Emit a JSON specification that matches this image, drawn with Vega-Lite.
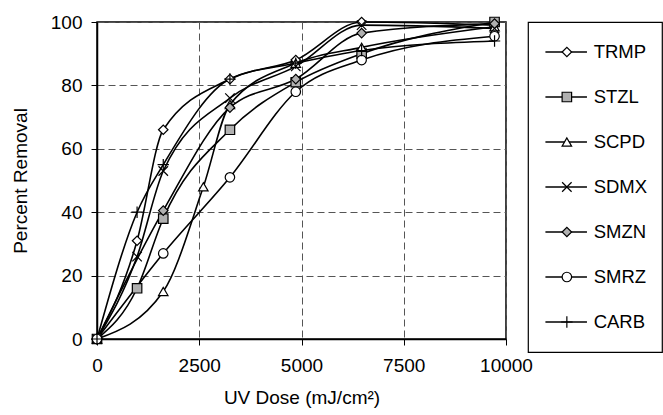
{
  "$schema": "https://vega.github.io/schema/vega-lite/v6.json",
  "background": "white",
  "padding": {"top": 12, "left": 10, "right": 0, "bottom": 0},
  "bounds": "flush",
  "spacing": 22,
  "config": {"font": "Liberation Sans"},
  "datasets": {
    "pts": [
      {"series": "TRMP", "dose": 0, "removal": 0},
      {"series": "TRMP", "dose": 980, "removal": 31},
      {"series": "TRMP", "dose": 1620, "removal": 66},
      {"series": "TRMP", "dose": 3250, "removal": 82},
      {"series": "TRMP", "dose": 4860, "removal": 88},
      {"series": "TRMP", "dose": 6470, "removal": 100},
      {"series": "TRMP", "dose": 9720, "removal": 99},
      {"series": "STZL", "dose": 0, "removal": 0},
      {"series": "STZL", "dose": 980, "removal": 16},
      {"series": "STZL", "dose": 1620, "removal": 38},
      {"series": "STZL", "dose": 3250, "removal": 66},
      {"series": "STZL", "dose": 4860, "removal": 81},
      {"series": "STZL", "dose": 6470, "removal": 90},
      {"series": "STZL", "dose": 9720, "removal": 100},
      {"series": "SCPD", "dose": 0, "removal": 0},
      {"series": "SCPD", "dose": 1620, "removal": 15},
      {"series": "SCPD", "dose": 2600, "removal": 48},
      {"series": "SCPD", "dose": 3250, "removal": 74},
      {"series": "SCPD", "dose": 4860, "removal": 87},
      {"series": "SCPD", "dose": 6470, "removal": 92},
      {"series": "SCPD", "dose": 9720, "removal": 98.5},
      {"series": "SDMX", "dose": 0, "removal": 0},
      {"series": "SDMX", "dose": 980, "removal": 26},
      {"series": "SDMX", "dose": 1620, "removal": 53},
      {"series": "SDMX", "dose": 3250, "removal": 76},
      {"series": "SDMX", "dose": 4860, "removal": 86},
      {"series": "SDMX", "dose": 6470, "removal": 99},
      {"series": "SDMX", "dose": 9720, "removal": 98},
      {"series": "SMZN", "dose": 0, "removal": 0},
      {"series": "SMZN", "dose": 1620, "removal": 40.5},
      {"series": "SMZN", "dose": 3250, "removal": 73},
      {"series": "SMZN", "dose": 4860, "removal": 82},
      {"series": "SMZN", "dose": 6470, "removal": 96.5},
      {"series": "SMZN", "dose": 9720, "removal": 99.5},
      {"series": "SMRZ", "dose": 0, "removal": 0},
      {"series": "SMRZ", "dose": 1620, "removal": 27},
      {"series": "SMRZ", "dose": 3250, "removal": 51},
      {"series": "SMRZ", "dose": 4860, "removal": 78},
      {"series": "SMRZ", "dose": 6470, "removal": 88},
      {"series": "SMRZ", "dose": 9720, "removal": 95.5},
      {"series": "CARB", "dose": 0, "removal": 0},
      {"series": "CARB", "dose": 980, "removal": 40},
      {"series": "CARB", "dose": 1620, "removal": 55},
      {"series": "CARB", "dose": 3250, "removal": 82},
      {"series": "CARB", "dose": 4860, "removal": 87},
      {"series": "CARB", "dose": 6470, "removal": 91},
      {"series": "CARB", "dose": 9720, "removal": 94}
    ],
    "leg": [
      {"series": "TRMP"}, {"series": "STZL"}, {"series": "SCPD"}, {"series": "SDMX"},
      {"series": "SMZN"}, {"series": "SMRZ"}, {"series": "CARB"}
    ]
  },
  "hconcat": [
    {
      "width": 409,
      "height": 317,
      "data": {"name": "pts"},
      "view": {"stroke": "black", "strokeWidth": 1.5},
      "layer": [
        {
          "mark": {"type": "line", "interpolate": "monotone", "color": "black", "strokeWidth": 1.6},
          "encoding": {
            "x": {
              "field": "dose", "type": "quantitative",
              "scale": {"domain": [0, 10000], "nice": false},
              "axis": {
                "values": [0, 2500, 5000, 7500, 10000], "format": "d",
                "title": "UV Dose (mJ/cm²)",
                "titleFontSize": 19, "titleFontWeight": "normal", "titleColor": "black", "titlePadding": 13,
                "labelFontSize": 19, "labelColor": "black", "labelPadding": 11, "labelFlush": false,
                "tickSize": 6, "tickColor": "black", "domainColor": "black", "domainWidth": 1.5,
                "grid": true, "gridColor": "#555555", "gridDash": [7, 4], "gridWidth": 1
              }
            },
            "y": {
              "field": "removal", "type": "quantitative",
              "scale": {"domain": [0, 100], "nice": false},
              "axis": {
                "values": [0, 20, 40, 60, 80, 100], "format": "d",
                "title": "Percent Removal",
                "titleFontSize": 19, "titleFontWeight": "normal", "titleColor": "black", "titlePadding": 20,
                "labelFontSize": 19, "labelColor": "black", "labelPadding": 9, "labelFlush": false,
                "tickSize": 6, "tickColor": "black", "domainColor": "black", "domainWidth": 1.5,
                "grid": true, "gridColor": "#555555", "gridDash": [7, 4], "gridWidth": 1
              }
            },
            "detail": {"field": "series"}
          }
        },
        {
          "mark": {"type": "point", "filled": true, "size": 90, "stroke": "black", "strokeWidth": 1.2, "opacity": 1},
          "encoding": {
            "x": {"field": "dose", "type": "quantitative"},
            "y": {"field": "removal", "type": "quantitative"},
            "shape": {
              "field": "series", "type": "nominal", "legend": null,
              "scale": {
                "domain": ["TRMP", "STZL", "SCPD", "SDMX", "SMZN", "SMRZ", "CARB"],
                "range": ["diamond", "square", "triangle-up", "M-1,-1L1,1M-1,1L1,-1", "diamond", "circle", "M-1.2,0L1.2,0M0,-1.2L0,1.2"]
              }
            },
            "fill": {
              "field": "series", "type": "nominal", "legend": null,
              "scale": {
                "domain": ["TRMP", "STZL", "SCPD", "SDMX", "SMZN", "SMRZ", "CARB"],
                "range": ["white", "#b0b0b0", "white", "transparent", "#b0b0b0", "white", "transparent"]
              }
            }
          }
        }
      ]
    },
    {
      "width": 134,
      "height": 330,
      "data": {"name": "leg"},
      "view": {"stroke": "black", "strokeWidth": 1.2},
      "encoding": {
        "y": {
          "field": "series", "type": "nominal", "axis": null,
          "scale": {"type": "point", "padding": 0.667, "domain": ["TRMP", "STZL", "SCPD", "SDMX", "SMZN", "SMRZ", "CARB"]}
        }
      },
      "layer": [
        {
          "mark": {"type": "rule", "color": "black", "strokeWidth": 1.6},
          "encoding": {
            "x": {"datum": 1.3, "type": "quantitative", "scale": {"domain": [0, 10]}, "axis": null},
            "x2": {"datum": 4.4}
          }
        },
        {
          "mark": {"type": "point", "filled": true, "size": 90, "stroke": "black", "strokeWidth": 1.2, "opacity": 1},
          "encoding": {
            "x": {"datum": 2.9, "type": "quantitative"},
            "shape": {"field": "series", "type": "nominal", "legend": null},
            "fill": {"field": "series", "type": "nominal", "legend": null}
          }
        },
        {
          "mark": {"type": "text", "align": "left", "baseline": "middle", "fontSize": 18.5, "color": "black"},
          "encoding": {
            "x": {"datum": 4.9, "type": "quantitative"},
            "text": {"field": "series"}
          }
        }
      ]
    }
  ]
}
